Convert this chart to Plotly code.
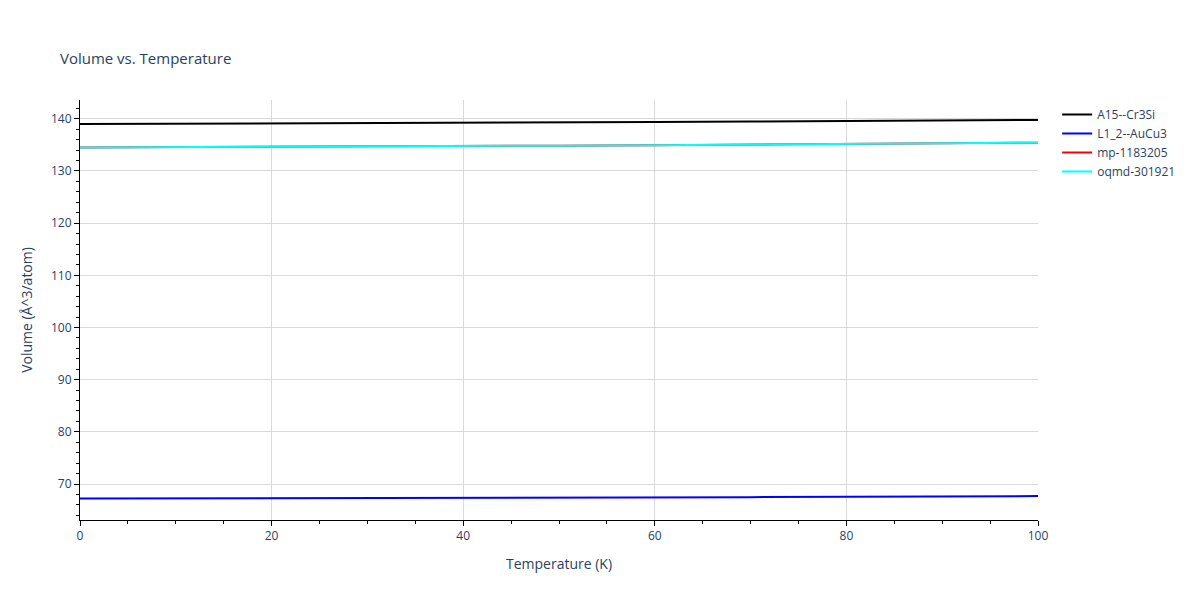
import plotly.graph_objects as go

temps = [0, 10, 20, 30, 40, 50, 60, 70, 80, 90, 100]
a15 = [139.00, 139.04, 139.09, 139.15, 139.22, 139.30, 139.38, 139.47, 139.56, 139.66, 139.77]
l12 = [67.20, 67.22, 67.25, 67.28, 67.32, 67.37, 67.42, 67.48, 67.54, 67.61, 67.68]
oqmd = [134.50, 134.55, 134.61, 134.68, 134.76, 134.85, 134.95, 135.06, 135.17, 135.29, 135.42]
mp = oqmd[:]

fig = go.Figure()
for name, ys, c in [("A15--Cr3Si", a15, "black"), ("L1_2--AuCu3", l12, "blue"),
                    ("mp-1183205", mp, "red"), ("oqmd-301921", oqmd, "cyan")]:
    fig.add_trace(go.Scatter(x=temps, y=ys, mode="lines", name=name, line=dict(color=c, width=2)))

axis_common = dict(showline=True, linecolor="black", ticks="outside", tickcolor="black",
                   gridcolor="#d9d9d9", zeroline=False)
fig.update_layout(
    width=1200, height=600, template="plotly_white",
    title=dict(text="Volume vs. Temperature", x=0.0433, y=0.925, font=dict(size=15)),
    margin=dict(l=72, r=170, t=92, b=88),
    xaxis=dict(title="Temperature (K)", range=[0, 100], dtick=20,
               minor=dict(ticks="outside", dtick=5, tickcolor="black", showgrid=False), **axis_common),
    yaxis=dict(title="Volume (Å^3/atom)", range=[63.1, 143.6], dtick=10,
               minor=dict(ticks="outside", dtick=2, tickcolor="black", showgrid=False), **axis_common),
    legend=dict(x=1.02, y=1, font=dict(size=12)),
)
fig.write_html("out.html")
